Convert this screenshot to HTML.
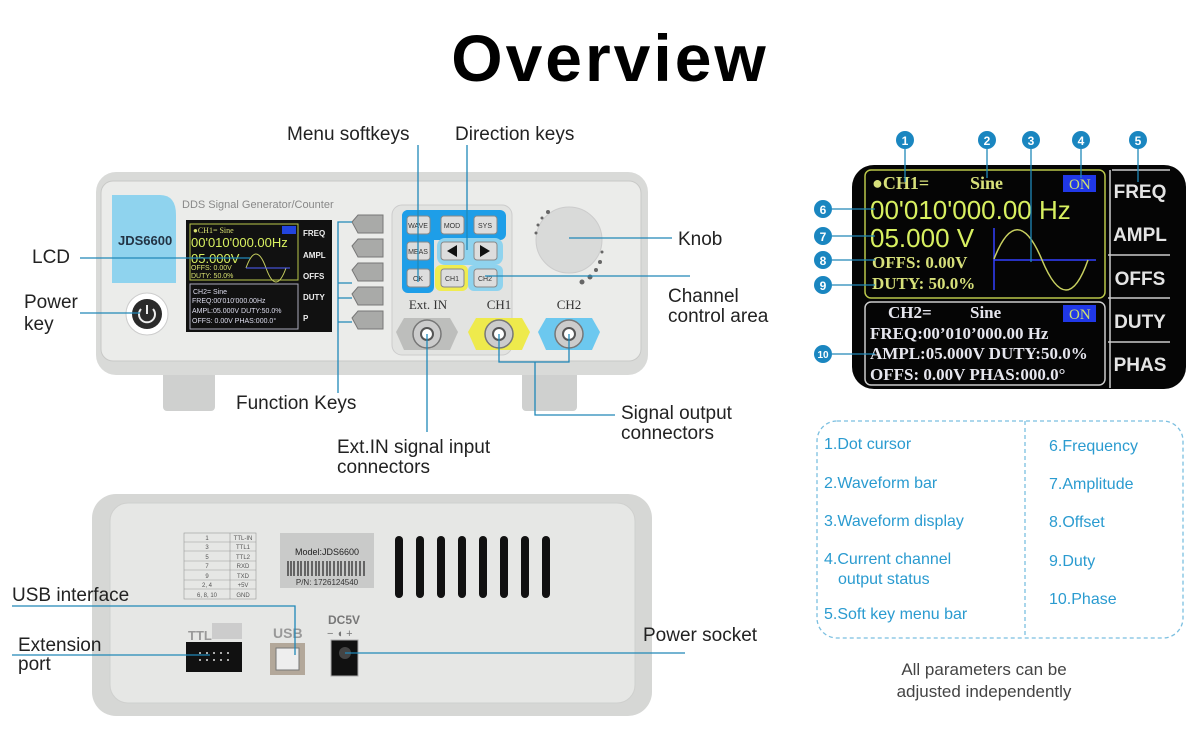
<!DOCTYPE html>
<html><head><meta charset="utf-8"><style>
html,body{margin:0;padding:0;background:#fff}
svg{display:block}
text{font-family:"Liberation Sans",sans-serif}
.sf text,text.sf{font-family:"Liberation Serif",serif}
.lb{font-size:19px;fill:#222}
.ln{stroke:#2088b8;stroke-width:1.3;fill:none}
.bl{font-size:16px;fill:#2a9bd0}
</style></head><body>
<svg width="1200" height="742" viewBox="0 0 1200 742">
<text x="610" y="81" text-anchor="middle" font-size="66" font-weight="bold" letter-spacing="3" fill="#000">Overview</text>

<!-- FRONT DEVICE -->
<rect x="163" y="365" width="52" height="46" rx="4" fill="#cfd0cf"/>
<rect x="522" y="365" width="55" height="46" rx="4" fill="#cfd0cf"/>
<rect x="96" y="172" width="552" height="203" rx="20" fill="#d9dad8"/>
<rect x="101" y="181" width="540" height="180" rx="12" fill="#ebecea" stroke="#c8c9c7"/>
<path d="M112 195 H160 Q176 195 176 215 V283 H112 Z" fill="#8fd3ee"/>
<text x="118" y="245" font-size="13" font-weight="bold" fill="#234">JDS6600</text>
<text x="182" y="208" font-size="11" fill="#888">DDS Signal Generator/Counter</text>
<circle cx="147" cy="314" r="21" fill="#fff" stroke="#ccc"/>
<circle cx="147" cy="314" r="15" fill="#2b2b2b"/>
<path d="M141 309 A8 8 0 1 0 153 309" stroke="#eee" stroke-width="2" fill="none"/><line x1="147" y1="305" x2="147" y2="314" stroke="#eee" stroke-width="2"/>
<rect x="186" y="220" width="146" height="112" fill="#111"/>
<rect x="190" y="224" width="108" height="56" fill="none" stroke="#b9c64a"/>
<text x="193" y="233" font-size="8" fill="#d8e070" class="sf">●CH1=  Sine</text>
<rect x="282" y="226" width="14" height="8" fill="#2244dd"/>
<text x="191" y="247" font-size="13" fill="#d8f060">00'010'000.00Hz</text>
<text x="191" y="263" font-size="13" fill="#d8f060">05.000V</text>
<text x="191" y="270" font-size="7" fill="#d8e070">OFFS: 0.00V</text>
<text x="191" y="278" font-size="7" fill="#d8e070">DUTY: 50.0%</text>
<path d="M246 268 Q256 240 266 268 T286 268" stroke="#c8d060" fill="none"/><line x1="246" y1="268" x2="290" y2="268" stroke="#5060ff"/>
<rect x="190" y="284" width="108" height="45" fill="none" stroke="#aab"/>
<text x="193" y="294" font-size="7" fill="#dde">CH2=   Sine</text>
<text x="192" y="303" font-size="7" fill="#dde">FREQ:00'010'000.00Hz</text>
<text x="192" y="313" font-size="7" fill="#dde">AMPL:05.000V DUTY:50.0%</text>
<text x="192" y="323" font-size="7" fill="#dde">OFFS: 0.00V PHAS:000.0°</text>
<g font-size="8" font-weight="bold" fill="#eee"><text x="303" y="236">FREQ</text><text x="303" y="258">AMPL</text><text x="303" y="279">OFFS</text><text x="303" y="300">DUTY</text><text x="303" y="321">P</text></g>
<g fill="#a9aaa8" stroke="#777">
<path d="M352 222 l6 -7 h25 v18 h-25 z"/><path d="M352 246 l6 -7 h25 v18 h-25 z"/><path d="M352 270 l6 -7 h25 v18 h-25 z"/><path d="M352 294 l6 -7 h25 v18 h-25 z"/><path d="M352 318 l6 -7 h25 v18 h-25 z"/></g>
<rect x="392" y="205" width="120" height="150" rx="10" fill="#e2e3e1" stroke="#ccc"/>
<rect x="402" y="210" width="104" height="30" rx="6" fill="#1e9ee8"/>
<rect x="402" y="210" width="32" height="83" rx="6" fill="#1e9ee8"/>
<rect x="437" y="238" width="66" height="27" rx="8" fill="#8fd3ee"/>
<rect x="435" y="265" width="33" height="26" rx="6" fill="#f0ec50"/>
<rect x="468" y="265" width="35" height="26" rx="6" fill="#8fd3ee"/>
<g fill="#ddd" stroke="#888"><rect x="407" y="216" width="23" height="18" rx="3"/><rect x="441" y="216" width="23" height="18" rx="3"/><rect x="474" y="216" width="23" height="18" rx="3"/><rect x="407" y="242" width="23" height="18" rx="3"/><rect x="441" y="242" width="23" height="18" rx="3"/><rect x="474" y="242" width="23" height="18" rx="3"/><rect x="407" y="269" width="23" height="18" rx="3"/><rect x="441" y="269" width="23" height="18" rx="3"/><rect x="474" y="269" width="23" height="18" rx="3"/></g>
<g font-size="7" fill="#333" text-anchor="middle"><text x="418" y="228">WAVE</text><text x="452" y="228">MOD</text><text x="485" y="228">SYS</text><text x="418" y="254">MEAS</text><text x="418" y="281">OK</text><text x="452" y="281">CH1</text><text x="485" y="281">CH2</text></g>
<path d="M447 251 l10 -6 v12z M490 251 l-10 -6 v12z" fill="#111"/>
<circle cx="569" cy="240" r="33" fill="#d9dad9" stroke="#ccc"/>
<g fill="#666"><circle cx="548" cy="212" r="2"/><circle cx="542" cy="218" r="1.5"/><circle cx="538" cy="225" r="1.5"/><circle cx="536" cy="233" r="1.5"/><circle cx="602" cy="252" r="1.5"/><circle cx="600" cy="262" r="2"/><circle cx="596" cy="270" r="2"/><circle cx="590" cy="277" r="2.5"/><circle cx="582" cy="282" r="2.5"/></g>
<g class="sf" font-size="13" fill="#333" text-anchor="middle"><text x="428" y="309">Ext. IN</text><text x="499" y="309">CH1</text><text x="569" y="309">CH2</text></g>
<path d="M404 318 h46 l8 14 -8 18 h-46 l-8 -18 z" fill="#bdbebc"/>
<path d="M476 318 h46 l8 14 -8 18 h-46 l-8 -18 z" fill="#eeea4c"/>
<path d="M546 318 h46 l8 14 -8 18 h-46 l-8 -18 z" fill="#6cc8ef"/>
<g fill="#ccc" stroke="#777" stroke-width="1.5"><circle cx="427" cy="334" r="14"/><circle cx="499" cy="334" r="14"/><circle cx="569" cy="334" r="14"/></g>
<g fill="#fff" stroke="#555" stroke-width="2"><circle cx="427" cy="334" r="6"/><circle cx="499" cy="334" r="6"/><circle cx="569" cy="334" r="6"/></g>

<!-- front labels -->
<text x="287" y="140" class="lb">Menu softkeys</text>
<text x="455" y="140" class="lb">Direction keys</text>
<text x="32" y="263" class="lb">LCD</text>
<text x="24" y="308" class="lb">Power</text><text x="24" y="330" class="lb">key</text>
<text x="678" y="245" class="lb">Knob</text>
<text x="668" y="302" class="lb">Channel</text><text x="668" y="322" class="lb">control area</text>
<text x="236" y="409" class="lb">Function Keys</text>
<text x="337" y="453" class="lb">Ext.IN signal input</text><text x="337" y="473" class="lb">connectors</text>
<text x="621" y="419" class="lb">Signal output</text><text x="621" y="439" class="lb">connectors</text>
<path class="ln" d="M80 258 H250 M80 313 H140 M418 145 V282 M467 145 V250 M569 238 H672 M485 276 H690 M338 393 V222 H352 M338 283 H352 M338 298 H352 M338 322 H352 M427 334 V432 M499 334 V362 H569 V334 M535 362 V415 H615"/>

<!-- BACK DEVICE -->
<rect x="92" y="494" width="560" height="222" rx="24" fill="#d6d7d5"/>
<rect x="110" y="503" width="525" height="200" rx="18" fill="#e6e7e5" stroke="#cfd0ce"/>
<g stroke="#999" stroke-width="0.6" fill="none"><rect x="184" y="533" width="72" height="66"/><line x1="230" y1="533" x2="230" y2="599"/>
<line x1="184" y1="542" x2="256" y2="542"/><line x1="184" y1="551" x2="256" y2="551"/><line x1="184" y1="561" x2="256" y2="561"/><line x1="184" y1="570" x2="256" y2="570"/><line x1="184" y1="580" x2="256" y2="580"/><line x1="184" y1="589" x2="256" y2="589"/></g>
<g font-size="6" fill="#555" text-anchor="middle"><text x="207" y="540">1</text><text x="207" y="549">3</text><text x="207" y="559">5</text><text x="207" y="568">7</text><text x="207" y="578">9</text><text x="207" y="587">2, 4</text><text x="207" y="597">6, 8, 10</text>
<text x="243" y="540">TTL-IN</text><text x="243" y="549">TTL1</text><text x="243" y="559">TTL2</text><text x="243" y="568">RXD</text><text x="243" y="578">TXD</text><text x="243" y="587">+5V</text><text x="243" y="597">GND</text></g>
<rect x="280" y="533" width="94" height="55" fill="#c9cac9"/>
<text x="327" y="555" font-size="9" text-anchor="middle" fill="#222">Model:JDS6600</text>
<g stroke="#222" stroke-width="1.2"><path d="M288 561 v15 M291 561 v15 M294 561 v15 M298 561 v15 M301 561 v15 M305 561 v15 M308 561 v15 M312 561 v15 M316 561 v15 M319 561 v15 M323 561 v15 M327 561 v15 M330 561 v15 M334 561 v15 M338 561 v15 M341 561 v15 M345 561 v15 M349 561 v15 M352 561 v15 M356 561 v15 M360 561 v15 M364 561 v15"/></g>
<text x="327" y="585" font-size="8" text-anchor="middle" fill="#333">P/N: 1726124540</text>
<g fill="#111"><rect x="395" y="536" width="8" height="62" rx="4"/><rect x="416" y="536" width="8" height="62" rx="4"/><rect x="437" y="536" width="8" height="62" rx="4"/><rect x="458" y="536" width="8" height="62" rx="4"/><rect x="479" y="536" width="8" height="62" rx="4"/><rect x="500" y="536" width="8" height="62" rx="4"/><rect x="521" y="536" width="8" height="62" rx="4"/><rect x="542" y="536" width="8" height="62" rx="4"/></g>
<text x="188" y="640" font-size="13" font-weight="bold" fill="#999">TTL</text>
<rect x="212" y="623" width="30" height="16" fill="#ccc"/>
<rect x="186" y="642" width="56" height="30" fill="#111"/>
<g fill="#ddd"><circle cx="200" cy="653" r="1"/><circle cx="207" cy="653" r="1"/><circle cx="214" cy="653" r="1"/><circle cx="221" cy="653" r="1"/><circle cx="228" cy="653" r="1"/><circle cx="200" cy="660" r="1"/><circle cx="207" cy="660" r="1"/><circle cx="214" cy="660" r="1"/><circle cx="221" cy="660" r="1"/><circle cx="228" cy="660" r="1"/></g>
<text x="273" y="638" font-size="14" font-weight="bold" fill="#999">USB</text>
<rect x="270" y="643" width="35" height="32" fill="#b3a89a"/><rect x="276" y="648" width="23" height="22" fill="#eee" stroke="#777"/>
<text x="328" y="624" font-size="12" font-weight="bold" fill="#777">DC5V</text>
<text x="327" y="637" font-size="11" fill="#777">−  ◖  +</text>
<rect x="331" y="640" width="27" height="36" fill="#111" stroke="#aaa"/><circle cx="345" cy="653" r="6" fill="#444"/>
<text x="12" y="601" class="lb">USB interface</text>
<text x="18" y="651" class="lb">Extension</text><text x="18" y="670" class="lb">port</text>
<text x="643" y="641" class="lb">Power socket</text>
<path class="ln" d="M12 606 H295 V655 M12 655 H210 M345 653 H685"/>

<!-- RIGHT SCREEN -->
<rect x="852" y="165" width="334" height="224" rx="22" fill="#050505"/>
<rect x="865" y="170" width="240" height="128" rx="6" fill="none" stroke="#b9c64a" stroke-width="1.5"/>
<rect x="865" y="302" width="240" height="83" rx="6" fill="none" stroke="#ccc" stroke-width="1.5"/>
<g stroke="#ccc" stroke-width="1.5" fill="none"><path d="M1112 170 H1170 M1110 210 V170 M1108 255 H1170 M1108 298 H1170 M1108 342 H1170 M1110 388 V170"/></g>
<g font-size="19" font-weight="bold" fill="#e4e4e4" text-anchor="middle"><text x="1140" y="198">FREQ</text><text x="1140" y="241">AMPL</text><text x="1140" y="285">OFFS</text><text x="1140" y="328">DUTY</text><text x="1140" y="371">PHAS</text></g>
<g class="sf" fill="#d7e07a" font-size="18" font-weight="bold"><text x="872" y="189">●CH1=</text><text x="970" y="189">Sine</text></g>
<rect x="1063" y="175" width="33" height="17" fill="#2038e8"/><text x="1069" y="189" font-size="15" fill="#cfe070" class="sf">ON</text>
<text x="870" y="219" font-size="26" fill="#d8f060">00'010'000.00 Hz</text>
<text x="870" y="247" font-size="26" fill="#d8f060">05.000 V</text>
<g class="sf" fill="#d7e07a" font-size="17" font-weight="bold"><text x="872" y="268">OFFS: 0.00V</text><text x="872" y="289">DUTY: 50.0%</text></g>
<line x1="994" y1="228" x2="994" y2="290" stroke="#3340ff" stroke-width="1.5"/><line x1="994" y1="260" x2="1096" y2="260" stroke="#3340ff" stroke-width="1.5"/>
<path d="M994 259 Q1017 200 1042 260 T1088 260" stroke="#c8d060" stroke-width="1.5" fill="none"/>
<g class="sf" fill="#e6e6ee" font-size="17" font-weight="bold"><text x="888" y="318">CH2=</text><text x="970" y="318">Sine</text>
<text x="870" y="339">FREQ:00’010’000.00 Hz</text><text x="870" y="359">AMPL:05.000V DUTY:50.0%</text><text x="870" y="380">OFFS:  0.00V PHAS:000.0°</text></g>
<rect x="1063" y="305" width="33" height="17" fill="#2038e8"/><text x="1069" y="319" font-size="15" fill="#cfe070" class="sf">ON</text>
<g fill="#1a86c0"><circle cx="905" cy="140" r="9"/><circle cx="987" cy="140" r="9"/><circle cx="1031" cy="140" r="9"/><circle cx="1081" cy="140" r="9"/><circle cx="1138" cy="140" r="9"/><circle cx="823" cy="209" r="9"/><circle cx="823" cy="236" r="9"/><circle cx="823" cy="260" r="9"/><circle cx="823" cy="285" r="9"/><circle cx="823" cy="354" r="9"/></g>
<g fill="#fff" font-size="12" font-weight="bold" text-anchor="middle"><text x="905" y="145">1</text><text x="987" y="145">2</text><text x="1031" y="145">3</text><text x="1081" y="145">4</text><text x="1138" y="145">5</text><text x="823" y="214">6</text><text x="823" y="241">7</text><text x="823" y="265">8</text><text x="823" y="290">9</text><text x="823" y="358" font-size="10">10</text></g>
<path class="ln" d="M905 149 V182 M987 149 V178 M1031 149 V262 M1081 149 V178 M1138 149 V182 M832 209 H875 M832 236 H875 M832 260 H875 M832 285 H875 M832 354 H875"/>

<!-- info box -->
<rect x="817" y="421" width="366" height="217" rx="20" fill="none" stroke="#7bbfe0" stroke-width="1.3" stroke-dasharray="4 3"/>
<line x1="1025" y1="421" x2="1025" y2="638" stroke="#7bbfe0" stroke-width="1.3" stroke-dasharray="4 3"/>
<text x="824" y="449" class="bl">1.Dot cursor</text><text x="824" y="488" class="bl">2.Waveform bar</text><text x="824" y="526" class="bl">3.Waveform display</text><text x="824" y="564" class="bl">4.Current channel</text><text x="838" y="584" class="bl">output status</text><text x="824" y="619" class="bl">5.Soft key menu bar</text>
<text x="1049" y="451" class="bl">6.Frequency</text><text x="1049" y="489" class="bl">7.Amplitude</text><text x="1049" y="527" class="bl">8.Offset</text><text x="1049" y="566" class="bl">9.Duty</text><text x="1049" y="604" class="bl">10.Phase</text>
<text x="984" y="675" font-size="17" fill="#444" text-anchor="middle">All parameters can be</text>
<text x="984" y="697" font-size="17" fill="#444" text-anchor="middle">adjusted independently</text>
</svg>
</body></html>
